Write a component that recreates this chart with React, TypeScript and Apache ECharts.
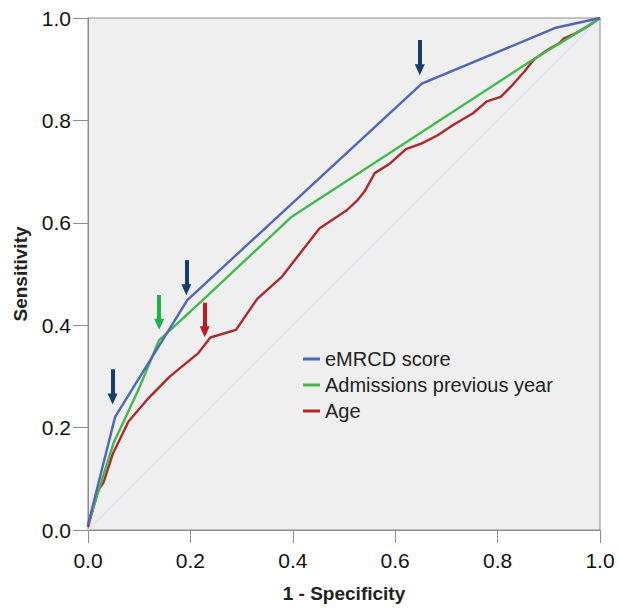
import React, { useEffect, useRef } from "react";
import * as echarts from "echarts";

const tickLabels = ["0.0", "0.2", "0.4", "0.6", "0.8", "1.0"];

const seriesNames = ["eMRCD score", "Admissions previous year", "Age"];
const seriesColors = ["#4f66c0", "#3fbb4a", "#b3262b"];

const emrcdX = [0, 0.02, 0.053, 0.194, 0.652, 0.914, 1];
const emrcdY = [0.01, 0.09, 0.221, 0.449, 0.872, 0.981, 1];

const admX = [0, 0.02, 0.05, 0.098, 0.139, 0.16, 0.225, 0.398, 0.868, 0.95, 1];
const admY = [0.01, 0.075, 0.17, 0.273, 0.371, 0.39, 0.45, 0.612, 0.918, 0.968, 1];

const ageX = [0, 0.02, 0.03, 0.049, 0.079, 0.115, 0.16, 0.215, 0.239, 0.289, 0.331, 0.379, 0.452, 0.506, 0.527, 0.54, 0.56, 0.59, 0.621, 0.652, 0.683, 0.713, 0.752, 0.779, 0.806, 0.829, 0.852, 0.871, 0.898, 0.921, 0.929, 0.952, 0.975, 1];
const ageY = [0.006, 0.078, 0.092, 0.15, 0.212, 0.254, 0.3, 0.345, 0.376, 0.391, 0.452, 0.495, 0.589, 0.625, 0.645, 0.661, 0.697, 0.716, 0.744, 0.755, 0.771, 0.791, 0.814, 0.837, 0.846, 0.869, 0.895, 0.919, 0.938, 0.951, 0.96, 0.97, 0.983, 1];

const refX = [0, 1];
const refY = [0, 1];

// cut-off arrows
const arrowX = [0.048, 0.192, 0.648, 0.139, 0.228];
const arrowTop = [0.314, 0.527, 0.957, 0.459, 0.444];
const arrowTip = [0.256, 0.469, 0.899, 0.402, 0.387];
const arrowColors = ["#123f6e", "#123f6e", "#123f6e", "#1cb24b", "#c8161d"];

const zip = (xs: number[], ys: number[]) => xs.map((x, i) => [x, ys[i]]);

export default function App() {
  const ref = useRef<HTMLDivElement>(null);
  useEffect(() => {
    if (!ref.current) return;
    const chart = echarts.init(ref.current, undefined, { renderer: "svg" });
    const font = "'Liberation Sans', Arial, sans-serif";
    const datasets = [zip(emrcdX, emrcdY), zip(admX, admY), zip(ageX, ageY)];
    chart.setOption({
      animation: false,
      backgroundColor: "#ffffff",
      grid: {
        left: 88,
        top: 18,
        width: 512,
        height: 512,
        show: true,
        backgroundColor: "#efefef",
        borderColor: "#8c8c8c",
        borderWidth: 1,
      },
      legend: {
        orient: "vertical",
        left: 298,
        top: 344,
        icon: "rect",
        itemWidth: 17,
        itemHeight: 3,
        itemGap: 6,
        data: seriesNames,
        textStyle: { fontFamily: font, fontSize: 20, color: "#222" },
      },
      xAxis: {
        type: "value",
        min: 0,
        max: 1,
        interval: 0.2,
        name: "1 - Specificity",
        nameLocation: "middle",
        nameGap: 54,
        nameTextStyle: { fontFamily: font, fontSize: 19, fontWeight: "bold", color: "#222" },
        axisLine: { show: true, lineStyle: { color: "#8c8c8c", width: 1 } },
        axisTick: { show: true, length: 13, lineStyle: { color: "#8c8c8c" } },
        splitLine: { show: false },
        axisLabel: {
          margin: 20,
          fontFamily: font,
          fontSize: 21,
          color: "#111",
          formatter: (v: number) => tickLabels[Math.round(v * 5)] ?? "",
        },
      },
      yAxis: {
        type: "value",
        min: 0,
        max: 1,
        interval: 0.2,
        name: "Sensitivity",
        nameLocation: "middle",
        nameGap: 58,
        nameTextStyle: { fontFamily: font, fontSize: 19, fontWeight: "bold", color: "#222" },
        axisLine: { show: true, lineStyle: { color: "#8c8c8c", width: 1 } },
        axisTick: { show: true, length: 15, lineStyle: { color: "#8c8c8c" } },
        splitLine: { show: false },
        axisLabel: {
          margin: 17,
          fontFamily: font,
          fontSize: 21,
          color: "#111",
          formatter: (v: number) => tickLabels[Math.round(v * 5)] ?? "",
        },
      },
      series: [
        {
          type: "line",
          name: "reference",
          data: zip(refX, refY),
          showSymbol: false,
          silent: true,
          lineStyle: { color: "#d6e1f6", width: 1.2 },
          z: 1,
        },
        ...seriesNames.map((n, i) => ({
          type: "line",
          name: n,
          data: datasets[i],
          showSymbol: false,
          symbol: "none",
          color: seriesColors[i],
          lineStyle: { color: seriesColors[i], width: 2.4 },
          z: 3 - i + 2,
        })),
        {
          type: "line",
          name: "arrows",
          data: [],
          silent: true,
          z: 10,
          markLine: {
            silent: true,
            animation: false,
            symbol: ["none", "triangle"],
            symbolSize: [10, 11],
            label: { show: false },
            emphasis: { disabled: true },
            data: arrowX.map((x, i) => [
              {
                coord: [x, arrowTop[i]],
                lineStyle: { color: arrowColors[i], width: 4, type: "solid" },
                itemStyle: { color: arrowColors[i] },
              },
              { coord: [x, arrowTip[i]] },
            ]),
          },
        },
      ],
    });
    return () => chart.dispose();
  }, []);
  return (
    <div
      ref={ref}
      style={{ position: "fixed", left: 0, top: 0, width: 618, height: 608 }}
    />
  );
}
